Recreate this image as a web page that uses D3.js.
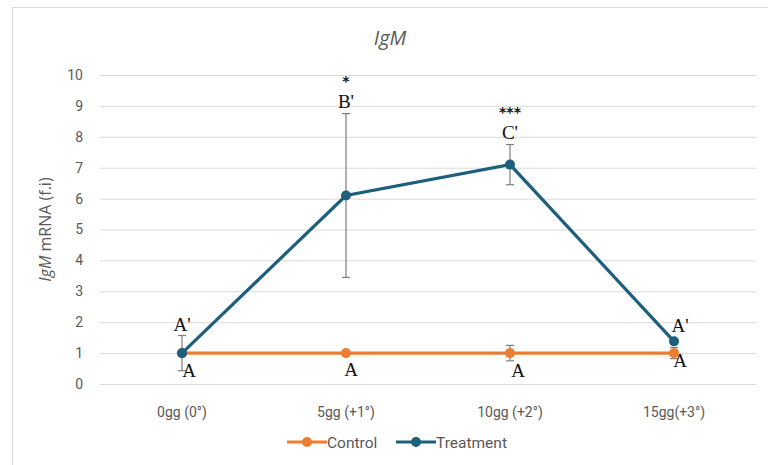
<!DOCTYPE html>
<html>
<head>
<meta charset="utf-8">
<script src="https://cdn.jsdelivr.net/npm/d3@7"></script>
<style>
  body { margin: 0; background: #fff; }
  svg { display: block; }
</style>
</head>
<body>
<svg id="chart" width="768" height="465"></svg>
<script>
const days = ["0gg (0°)", "5gg (+1°)", "10gg (+2°)", "15gg(+3°)"];
const yTicks = [0, 1, 2, 3, 4, 5, 6, 7, 8, 9, 10];

const controlValues = [1, 1, 1, 1];
const controlErr = [0.05, 0.05, 0.25, 0.18];
const controlLetters = ["A", "A", "A", "A"];

const treatValues = [1.0, 6.1, 7.1, 1.38];
const treatErr = [0.57, 2.65, 0.65, 0.05];
const treatLetters = ["A'", "B'", "C'", "A'"];
const treatStars = ["", "*", "***", ""];

const orange = "#ed7d31";
const blue = "#1d5f7c";
const grey = "#595959";
const tickFont = "'Roboto', sans-serif";
const serif = "'Liberation Serif', 'DejaVu Serif', serif";

const svg = d3.select("svg#chart");

// chart frame
svg.append("rect")
    .attr("x", 12.5).attr("y", 7.5)
    .attr("width", 770).attr("height", 470)
    .attr("fill", "none")
    .attr("stroke", "#d9d9d9");

let margin = { top: 75, left: 100, right: 756, bottom: 384 };

let x = d3.scaleBand()
    .domain(days)
    .range([margin.left, margin.right]);

let y = d3.scaleLinear()
    .domain([0, 10])
    .range([margin.bottom, margin.top]);

let cx = (i) => x(days[i]) + x.bandwidth() / 2;

// gridlines + y labels
let yAxis = d3.axisLeft(y)
    .tickValues(yTicks)
    .tickSize(-(margin.right - margin.left))
    .tickPadding(17);

let gy = svg.append("g")
    .attr("transform", "translate(" + margin.left + ",0)")
    .call(yAxis);
gy.select(".domain").remove();
gy.selectAll(".tick line").attr("stroke", "#d9d9d9");
gy.selectAll(".tick text")
    .attr("fill", grey)
    .style("font-family", tickFont)
    .style("font-size", "14px");

// x labels
let xAxis = d3.axisBottom(x).tickSize(0).tickPadding(23);
let gx = svg.append("g")
    .attr("transform", "translate(0," + margin.bottom + ")")
    .call(xAxis);
gx.select(".domain").remove();
gx.selectAll(".tick text")
    .attr("fill", grey)
    .style("font-family", tickFont)
    .style("font-size", "14px");

// title
svg.append("text")
    .attr("x", 390).attr("y", 45)
    .attr("text-anchor", "middle")
    .attr("fill", grey)
    .style("font-family", "'Open Sans', sans-serif")
    .style("font-style", "italic")
    .style("font-size", "20px")
    .text("IgM");

// y axis title
let yt = svg.append("text")
    .attr("transform", "translate(51," + (margin.top + margin.bottom) / 2 + ") rotate(-90)")
    .attr("text-anchor", "middle")
    .attr("fill", grey)
    .style("font-family", "'Open Sans', sans-serif")
    .style("font-size", "16px");
yt.append("tspan").style("font-style", "italic").text("IgM");
yt.append("tspan").text(" mRNA (f.i)");

// error bars
function errorBars(values, errs) {
    values.forEach(function(v, i) {
        let g = svg.append("g").attr("stroke", "#7f7f7f").attr("stroke-width", 1.2);
        g.append("line")
            .attr("x1", cx(i)).attr("x2", cx(i))
            .attr("y1", y(v - errs[i])).attr("y2", y(v + errs[i]));
        [v - errs[i], v + errs[i]].forEach(function(e) {
            g.append("line")
                .attr("x1", cx(i) - 4).attr("x2", cx(i) + 4)
                .attr("y1", y(e)).attr("y2", y(e));
        });
    });
}
errorBars(treatValues, treatErr);
errorBars(controlValues, controlErr);

let line = d3.line()
    .x((d, i) => cx(i))
    .y((d) => y(d));

function series(values, color) {
    svg.append("path")
        .attr("d", line(values))
        .attr("fill", "none")
        .attr("stroke", color)
        .attr("stroke-width", 3.2);
    svg.selectAll(null)
        .data(values)
        .enter()
        .append("circle")
        .attr("cx", (d, i) => cx(i))
        .attr("cy", (d) => y(d))
        .attr("r", 5)
        .attr("fill", color);
}
series(controlValues, orange);
series(treatValues, blue);

// significance letters (label offsets per point)
let treatDx = [0, 0, 0, 6];
let treatDy = [-4, -6, -6, -9];
svg.selectAll(null)
    .data(treatLetters)
    .enter()
    .append("text")
    .attr("x", (d, i) => cx(i) + treatDx[i])
    .attr("y", (d, i) => (i == 3 ? y(treatValues[i]) : y(treatValues[i] + treatErr[i])) + treatDy[i])
    .attr("text-anchor", "middle")
    .style("font-family", serif)
    .style("font-size", "19px")
    .attr("fill", "#111")
    .text((d) => d);

svg.selectAll(null)
    .data(treatStars)
    .enter()
    .append("text")
    .attr("x", (d, i) => cx(i))
    .attr("y", (d, i) => y(treatValues[i] + treatErr[i]) - 28)
    .attr("text-anchor", "middle")
    .style("font-family", "'DejaVu Sans', sans-serif")
    .style("font-weight", "bold")
    .style("font-size", "14px")
    .attr("fill", "#111")
    .text((d) => d);

let letterDx = [7, 5, 8, 6];
let letterDy = [24, 23, 24, 14];
svg.selectAll(null)
    .data(controlLetters)
    .enter()
    .append("text")
    .attr("x", (d, i) => cx(i) + letterDx[i])
    .attr("y", (d, i) => y(controlValues[i]) + letterDy[i])
    .attr("text-anchor", "middle")
    .style("font-family", serif)
    .style("font-size", "19px")
    .attr("fill", "#111")
    .text((d) => d);

// legend
let legend = [["Control", orange, 287], ["Treatment", blue, 396]];
legend.forEach(function(l) {
    let g = svg.append("g").attr("transform", "translate(" + l[2] + ",442)");
    g.append("line").attr("x1", 0).attr("x2", 40).attr("y1", 0).attr("y2", 0)
        .attr("stroke", l[1]).attr("stroke-width", 3.2);
    g.append("circle").attr("cx", 20).attr("cy", 0).attr("r", 5).attr("fill", l[1]);
    g.append("text").attr("x", 40).attr("y", 5.5)
        .attr("fill", grey)
        .style("font-family", tickFont)
        .style("font-size", "15.5px")
        .text(l[0]);
});
</script>
</body>
</html>
